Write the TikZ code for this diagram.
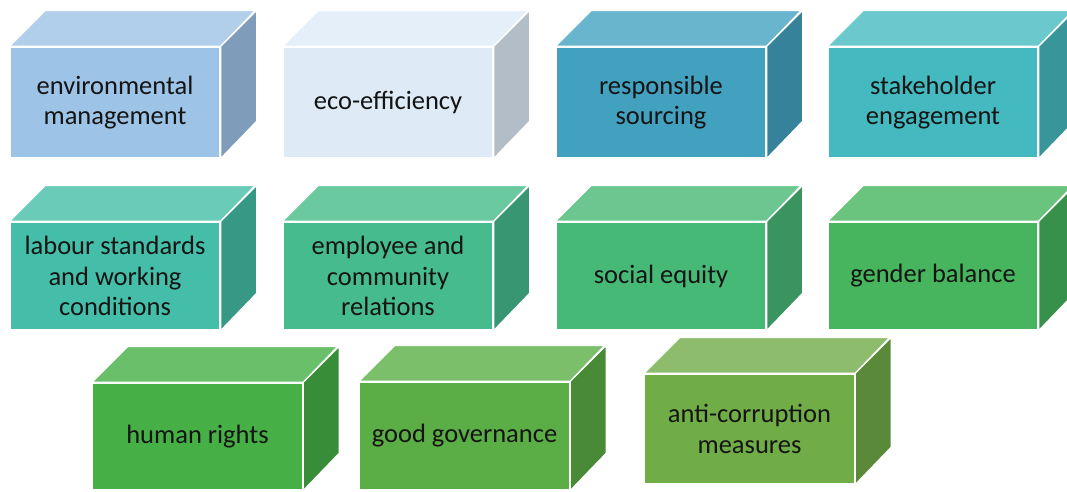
\documentclass[tikz,border=0pt]{standalone}
\usepackage{fontspec}
\setmainfont{Carlito}
\definecolor{txt}{HTML}{141414}
\tikzset{
  face/.style={draw=white, line width=1.3pt, line join=miter},
  frontface/.style={face, inner sep=1pt, minimum width=210pt, align=center,
    text=txt, font=\fontsize{26.5}{30.5}\selectfont},
}
% name, cx, cy, height, front hex, top hex, side hex, text
\newcommand\cub[8]{%
  \definecolor{#1F}{HTML}{#5}\definecolor{#1T}{HTML}{#6}\definecolor{#1S}{HTML}{#7}%
  \node[frontface, fill=#1F, minimum height=#4pt] (#1) at (#2,#3) {#8};
  \path[face, fill=#1T] (#1.north west) -- ++(36,-36) -- ++(210,0) -- (#1.north east) -- cycle;
  \path[face, fill=#1S] (#1.north east) -- ++(36,-36) -- ++(0,#4) -- (#1.south east) -- cycle;
}
\begin{document}
\begin{tikzpicture}[x=1pt,y=-1pt]
\useasboundingbox (0,0) rectangle (1067,491);
\fill[white] (0,0) rectangle (1067,491);
% row 1
\cub{em}{115}{102.5}{111}{9DC3E6}{B1CFEB}{7F9DBA}{environmental\\management}
\cub{ee}{388}{102.5}{111}{DEEBF7}{E5EFF9}{B3BDC7}{eco-efficiency}
\cub{rs}{661}{102.5}{111}{43A1C0}{6AB5CE}{36829B}{responsible\\sourcing}
\cub{se}{933}{102.5}{111}{44BAC0}{6BC9CE}{38969B}{stakeholder\\engagement}
% row 2
\cub{ls}{115}{276}{108}{45BEA9}{6BCBB9}{379886}{labour standards\\and working\\conditions}
\cub{ec}{388}{276}{108}{46BC8E}{6BC9A0}{389672}{employee and\\community\\relations}
\cub{sq}{661}{276}{108}{47B977}{6BC78F}{39945F}{social equity}
\cub{gb}{933}{276}{108}{46B55E}{6AC47D}{38914B}{gender balance}
% row 3
\cub{hr}{197.5}{436.5}{107}{46B046}{6ABF6A}{388D38}{human rights}
\cub{gg}{464.5}{436}{108}{5BAD45}{7BBF6A}{498A37}{good governance}
\cub{ac}{749.5}{429}{110}{70AD47}{8DBD6C}{5A8A39}{anti-corruption\\measures}
\end{tikzpicture}
\end{document}
